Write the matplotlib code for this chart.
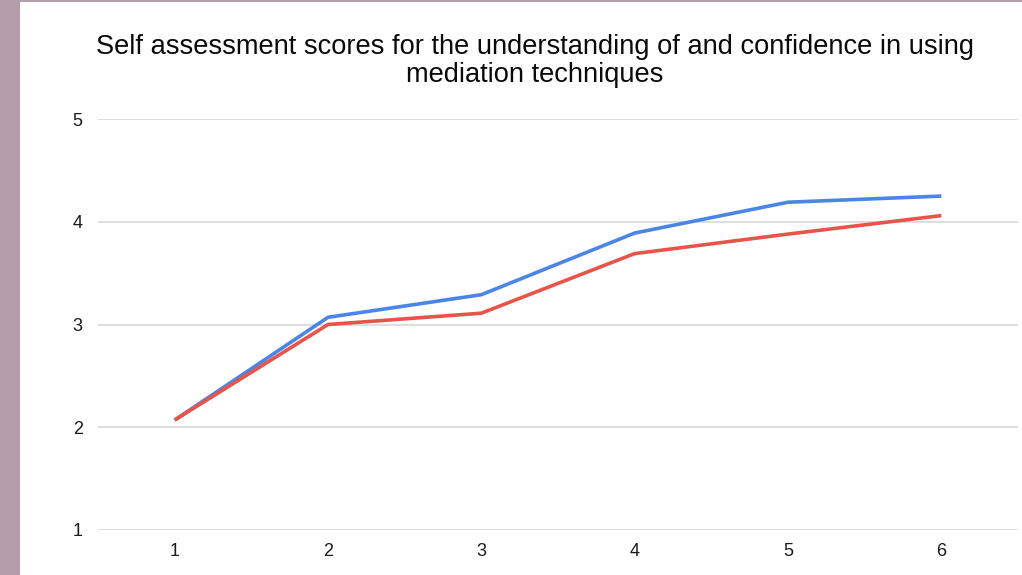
import matplotlib.pyplot as plt
from matplotlib.patches import Rectangle

plt.rcParams['font.family'] = ['Liberation Sans', 'DejaVu Sans']

# -----------------------------
# Data
# -----------------------------
sessions = [1, 2, 3, 4, 5, 6]
understanding = [2.07, 3.07, 3.29, 3.89, 4.19, 4.25]
confidence = [2.07, 3.00, 3.11, 3.69, 3.88, 4.06]
y_ticks = [1, 2, 3, 4, 5]

title = ("Self assessment scores for the understanding of and confidence in using\n"
         "mediation techniques")

# -----------------------------
# Figure
# -----------------------------
fig = plt.figure(figsize=(10.22, 5.75), dpi=100)
fig.patch.set_facecolor("white")

# mauve frame on the left and top
fig.patches.append(Rectangle((0, 0), 20 / 1022, 1, transform=fig.transFigure,
                             facecolor="#b59cab", edgecolor="none"))
fig.patches.append(Rectangle((0, 1 - 2 / 575), 1, 2 / 575, transform=fig.transFigure,
                             facecolor="#b59cab", edgecolor="none"))

ax = fig.add_axes([98 / 1022, 1 - 530 / 575, 920 / 1022, 411 / 575])

ax.plot(sessions, understanding, color="#4a86e8", linewidth=2.6, solid_capstyle="butt")
ax.plot(sessions, confidence, color="#e8544a", linewidth=2.6, solid_capstyle="butt")

ax.set_xlim(0.5, 6.5)
ax.set_ylim(1, 5)
ax.set_xticks(sessions)
ax.set_yticks(y_ticks)
ax.grid(axis="y", color="#dedede", linewidth=1.4)
ax.set_axisbelow(True)
for s in ax.spines.values():
    s.set_visible(False)
ax.tick_params(length=0, labelsize=13, colors="#1a1a1a")
ax.tick_params(axis="y", pad=11)
ax.tick_params(axis="x", pad=9)

fig.text(535 / 1022, 1 - 61 / 575, title, ha="center", va="center",
         fontsize=19.6, color="#0a0a0a", linespacing=1.1)

fig.savefig("out.png", dpi=100)
